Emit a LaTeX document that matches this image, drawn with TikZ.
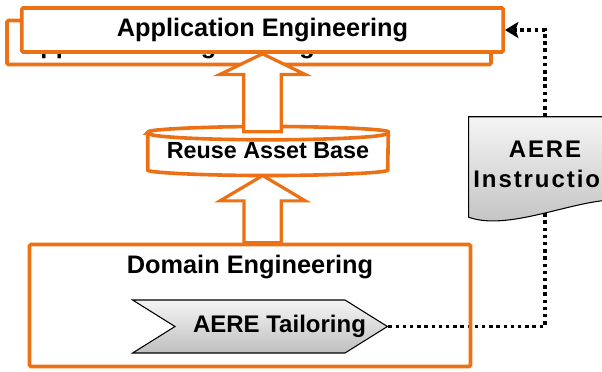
\documentclass[tikz,border=0pt]{standalone}
\usepackage{fontspec}
\setmainfont{Liberation Sans}
\newfontfamily\spacedfont[LetterSpace=8]{Liberation Sans}
\usepackage{tikz}
\usetikzlibrary{positioning, shapes.symbols, arrows.meta, calc, backgrounds}

\definecolor{aereorange}{RGB}{236,112,20}

% hollow block arrow from #1 up to #2, head length #3
\newcommand{\blockarrow}[3]{%
  \draw[blockarrow] let \p1=(#1), \p2=(#2) in
    (\x2-14pt,\y1) -- (\x2-14pt,\y2-#3) -- (\x2-32pt,\y2-#3) -- (\x2,\y2)
    -- (\x2+32pt,\y2-#3) -- (\x2+14pt,\y2-#3) -- (\x2+14pt,\y1) -- cycle;}

\begin{document}
\begin{tikzpicture}[x=0.75pt, y=-0.75pt, >={Stealth[length=10pt, width=12pt, inset=2pt]},
    bigfont/.style={font=\fontsize{19pt}{21pt}\selectfont\bfseries},
    orangebox/.style={draw=aereorange, line width=2.7pt, rounded corners=1pt},
    appbox/.style={orangebox, fill=white, minimum width=361pt, minimum height=33pt, bigfont},
    blockarrow/.style={draw=aereorange, line width=2.4pt, fill=white, line join=miter},
    dotline/.style={line width=2.6pt, dash pattern=on 2.6pt off 2.8pt},
    tailbox/.style={signal, signal to=east, signal from=west, signal pointer angle=64,
      draw=black, line width=0.8pt, top color=gray!8, bottom color=gray!50,
      minimum height=39.75pt, inner xsep=0pt,
      font=\fontsize{18pt}{20pt}\selectfont\bfseries},
    docshape/.style={draw=black, line width=0.8pt, top color=gray!8, bottom color=gray!50}]
  \useasboundingbox (0,0) rectangle (602,371);

  % Application engineering (stacked)
  \node[appbox, align=left, text width=340.5pt, inner xsep=11.25pt, text height=20pt, text depth=4pt]
    (appengback) at (249,42.5) {Application Engineering};
  \node[appbox] (appeng) at (262.5,30) {Application Engineering};

  % Reuse asset base
  \node[minimum width=180pt, minimum height=36.4pt, font=\fontsize{17.5pt}{19pt}\selectfont\bfseries]
    (reuse) at (268,151) {Reuse Asset Base};

  % Domain engineering
  \node[orangebox, minimum width=330.75pt, minimum height=91.5pt] (domain) at (250,305.5) {};
  \node[bigfont] (domaintitle) at (250,267) {Domain Engineering};
  \node[tailbox] (tailor) at (260,326.5) {\makebox[127.5pt][l]{\hspace*{13.5pt}AERE Tailoring}};

  % Instruction document
  \node[minimum width=108pt, minimum height=71.25pt, align=center,
    font=\fontsize{18pt}{22.5pt}\selectfont\spacedfont\bfseries] (instr) at (545,164.5)
    {AERE\\Instruction};

  \begin{scope}[on background layer]
    \draw[dotline] (tailor.east) -| (instr.south);
    \draw[docshape] (instr.north west) -- (instr.north east) -- ([yshift=9pt]instr.south east)
      .. controls ($(instr.south west)+(112,-16)$) and ($(instr.south west)+(42,20)$)
      .. ([yshift=-3.75pt]instr.south west) -- cycle;
    % cylinder round the reuse node
    \draw[orangebox, fill=white] ([yshift=-5pt]reuse.north west) -- ([yshift=5pt]reuse.south west)
      arc[start angle=180, end angle=360, x radius=90pt, y radius=5pt]
      -- ([yshift=-5pt]reuse.north east)
      arc[start angle=0, end angle=180, x radius=90pt, y radius=5pt] -- cycle;
    \draw[orangebox] ([yshift=-5pt]reuse.north west)
      arc[start angle=180, end angle=360, x radius=90pt, y radius=5pt];
  \end{scope}

  \draw[dotline, ->] (instr.north) |- (appeng.east);

  % Block arrows
  \blockarrow{[yshift=-4pt]reuse.north}{appeng.south}{15.5pt}
  \blockarrow{domain.north}{[xshift=-4pt]reuse.south}{19pt}
\end{tikzpicture}
\end{document}
